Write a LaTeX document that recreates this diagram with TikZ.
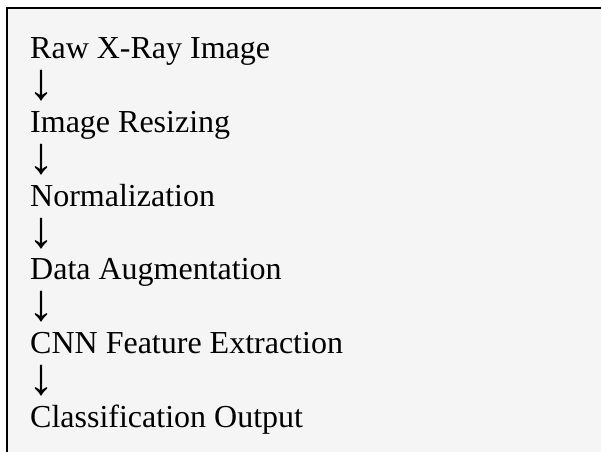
\documentclass[tikz,border=0pt]{standalone}
\usepackage{fontspec}
\setmainfont{Liberation Serif}

\colorlet{panel}{black!4}
\tikzset{stage/.style={anchor=base west, inner sep=0pt,
    font=\fontsize{32bp}{36.8bp}\selectfont},
  downarrow/.style={stage, font=\fontsize{52bp}{52bp}\selectfont,
    text height=27bp, text depth=1bp}}

\begin{document}
\begin{tikzpicture}[x=1bp, y=-1bp]
      \useasboundingbox (0,0) rectangle (601,452);

      % Panel (cut off at right and bottom)
      \fill[white] (0,0) rectangle (601,452);
      \fill[panel] (7,8) rectangle (601,452);
      \draw[line width=2bp] (7,452) -- (7,8) -- (601,8);

      % Stages
      \node[stage] (raw)    at (30, 59.0) {Raw X-Ray Image};
      \node[downarrow] (a1) at (28,100.0) {↓};
      \node[stage] (resize) at (30,132.6) {Image Resizing};
      \node[downarrow] (a2) at (28,173.6) {↓};
      \node[stage] (norm)   at (30,206.2) {Normalization};
      \node[downarrow] (a3) at (28,247.2) {↓};
      \node[stage] (aug)    at (30,279.8) {Data Augmentation};
      \node[downarrow] (a4) at (28,320.8) {↓};
      \node[stage] (cnn)    at (30,353.4) {CNN Feature Extraction};
      \node[downarrow] (a5) at (28,394.4) {↓};
      \node[stage] (out)    at (30,427.0) {Classification Output};
    \end{tikzpicture}
\end{document}
